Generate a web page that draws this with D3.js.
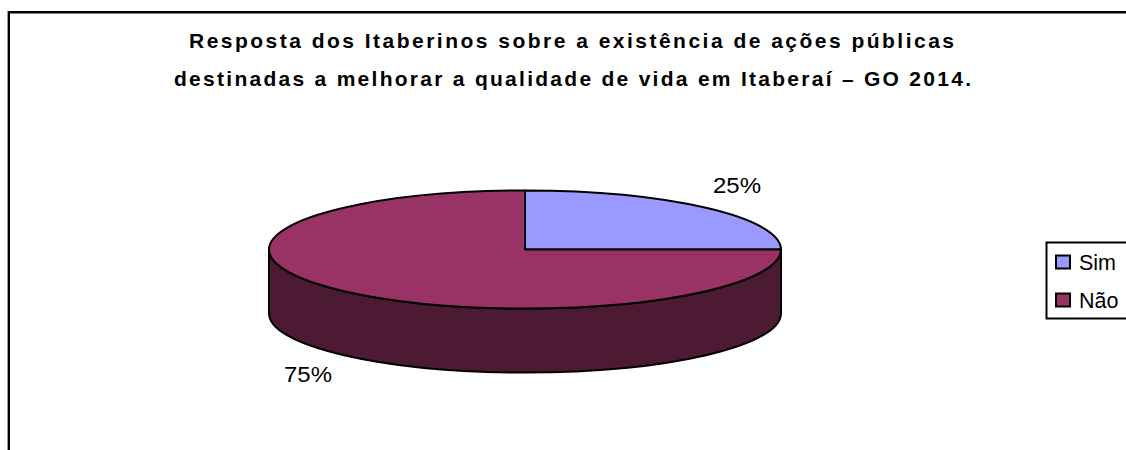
<!DOCTYPE html>
<html><head><meta charset="utf-8">
<script src="https://cdn.jsdelivr.net/npm/d3@7/dist/d3.min.js"></script>
<style>html,body{margin:0;padding:0;background:#fff;overflow:hidden}svg{display:block}text{font-family:"Liberation Sans",Arial,sans-serif;fill:#000}</style>
</head><body><svg id="c" width="1126" height="450"></svg>
<script>
const categories = ["Sim", "Não"];
const values = [25, 75];
const colors = ["#9999FF", "#993366"];
const sideColor = "#4C1A33";
const titleLines = ["Resposta dos Itaberinos sobre a existência de ações públicas", "destinadas a melhorar a qualidade de vida em Itaberaí – GO 2014."];
const labelTexts = ["25%", "75%"];

const svg = d3.select("#c");
// frame (cut by the image's right and bottom edges)
svg.append("path").attr("d","M8.8,451V12.2H1127").attr("fill","none").attr("stroke","#000").attr("stroke-width",2.4);

svg.selectAll("text.title").data(titleLines).join("text").attr("class","title")
  .attr("x",(d,i)=>[189,174][i]).attr("y",(d,i)=>[48,86][i])
  .attr("textLength",(d,i)=>[765,797][i]).attr("lengthAdjust","spacing")
  .attr("font-size",21).attr("font-weight","bold").text(d=>d);

const cx=525, cy=249.5, rx=256, ry=59, depth=64;
const pie=d3.pie().sort(null).value(d=>d)(values);
const arc=d3.arc().innerRadius(0).outerRadius(rx);

// side wall: front half of the rim between the right and left extremes
const rim=`M${cx+rx},${cy}V${cy+depth}A${rx},${ry} 0 0 1 ${cx-rx},${cy+depth}V${cy}A${rx},${ry} 0 0 0 ${cx+rx},${cy}Z`;
svg.append("path").attr("d",rim).attr("fill",sideColor).attr("stroke","#000").attr("stroke-width",2).attr("stroke-linejoin","round");

const g=svg.append("g").attr("transform",`translate(${cx},${cy}) scale(1,${ry/rx})`);
g.selectAll("path").data(pie).join("path").attr("d",arc)
  .attr("fill",(d,i)=>colors[i]).attr("stroke","#000").attr("stroke-width",2)
  .attr("stroke-linejoin","round").attr("vector-effect","non-scaling-stroke");

svg.selectAll("text.lab").data(labelTexts).join("text").attr("class","lab")
  .attr("x",(d,i)=>[713,284][i]).attr("y",(d,i)=>[193,382][i])
  .attr("font-size",22).attr("textLength",48).attr("lengthAdjust","spacingAndGlyphs").text(d=>d);

// legend
svg.append("path").attr("d","M1127,242.5H1046.5V318.5H1127").attr("fill","#fff").attr("stroke","#000").attr("stroke-width",2);
const ly=d3.scalePoint().domain(categories).range([262,300]);
svg.selectAll("rect.k").data(categories).join("rect").attr("class","k")
  .attr("x",1056).attr("y",d=>ly(d)-6.5).attr("width",14).attr("height",13)
  .attr("fill",(d,i)=>colors[i]).attr("stroke","#000").attr("stroke-width",2);
svg.selectAll("text.l").data(categories).join("text").attr("class","l")
  .attr("x",1079).attr("y",d=>ly(d)+8).attr("font-size",21.5).text(d=>d);
</script></body></html>
